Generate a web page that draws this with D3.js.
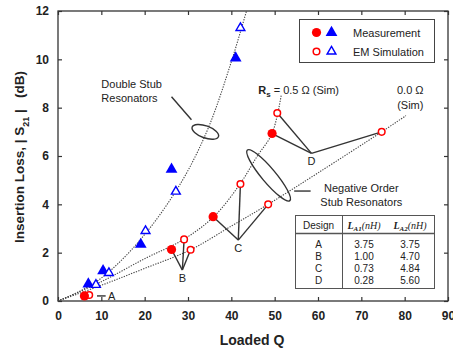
<!DOCTYPE html>
<html lang="en">
<head>
<meta charset="utf-8">
<title>Insertion Loss vs Loaded Q</title>
<style>
  body { margin: 0; background: #fff; }
  text { font-family: "Liberation Sans", Arial, sans-serif; fill: #222; }
</style>
</head>
<body>
<script src="https://cdn.jsdelivr.net/npm/d3@7"></script>
<script>
// Data
var triMeasQ  = [7.0, 10.4, 19.1, 26.2, 41.0];
var triMeasIL = [0.70, 1.25, 2.34, 5.45, 10.05];
var triSimQ   = [8.75, 11.75, 20.2, 27.2, 42.1];
var triSimIL  = [0.67, 1.16, 2.90, 4.53, 11.3];
var cirMeasQ  = [6.1, 26.2, 35.8, 49.4];
var cirMeasIL = [0.21, 2.13, 3.49, 6.93];
var cirSimQ   = [7.2, 29.1, 30.6, 42.1, 48.5, 50.6, 74.7];
var cirSimIL  = [0.25, 2.55, 2.12, 4.84, 4.00, 7.78, 7.00];

// dotted guide curves
var stubQ  = [0, 5, 10, 15, 20, 25, 30, 35, 40, 43.5];
var stubIL = [0, 0.40, 0.95, 1.75, 2.75, 3.95, 5.4, 7.3, 9.9, 12];
var rs05Q  = [0, 10, 20, 29, 36, 42, 46, 49.4, 51.5];
var rs05IL = [0, 0.80, 1.75, 2.55, 3.5, 4.84, 6.0, 6.93, 8.5];
var rs00Q  = [0, 10, 20, 30.6, 40, 48.5, 60, 74.7, 80.3];
var rs00IL = [0, 0.65, 1.35, 2.12, 3.1, 4.0, 5.3, 7.0, 7.67];

var xTicks = [0, 10, 20, 30, 40, 50, 60, 70, 80, 90];
var yTicks = [0, 2, 4, 6, 8, 10, 12];

var tableHead = ["Design", "LA1", "LA2"];
var designs = ["A", "B", "C", "D"];
var la1 = ["3.75", "1.00", "0.73", "0.28"];
var la2 = ["3.75", "4.70", "4.84", "5.60"];

var w = 453, h = 349;
var svg = d3.select("body").append("svg").attr("width", w).attr("height", h);

var x = d3.scaleLinear().domain([0, 90]).range([58, 448]);
var y = d3.scaleLinear().domain([0, 12]).range([301, 11]);

function pts(qs, ils) { return qs.map(function(q, i) { return [q, ils[i]]; }); }

// frame
svg.append("rect").attr("x", x(0)).attr("y", y(12))
   .attr("width", x(90) - x(0)).attr("height", y(0) - y(12))
   .attr("fill", "none").attr("stroke", "#333").attr("stroke-width", 1.3);

// axes with inward ticks
svg.append("g").attr("transform", "translate(0," + y(0) + ")")
  .call(d3.axisBottom(x).tickValues(xTicks).tickSizeInner(-4).tickSizeOuter(0).tickPadding(10));
svg.append("g").attr("transform", "translate(" + x(0) + ",0)")
  .call(d3.axisLeft(y).tickValues(yTicks).tickSizeInner(-4).tickSizeOuter(0).tickPadding(9));
svg.append("g").attr("transform", "translate(0," + y(12) + ")")
  .call(d3.axisTop(x).tickValues(xTicks).tickSizeInner(-4).tickSizeOuter(0).tickFormat(""));
svg.append("g").attr("transform", "translate(" + x(90) + ",0)")
  .call(d3.axisRight(y).tickValues(yTicks).tickSizeInner(-4).tickSizeOuter(0).tickFormat(""));
svg.selectAll(".domain").remove();
svg.selectAll(".tick line").attr("stroke", "#333").attr("stroke-width", 1.2);
svg.selectAll(".tick text").style("font-size", "12px").style("font-weight", "bold")
   .style("font-family", "Liberation Sans, Arial, sans-serif").attr("fill", "#333");

// axis titles
svg.append("text").attr("x", 252).attr("y", 345).attr("text-anchor", "middle")
   .style("font-size", "14px").style("font-weight", "bold").text("Loaded Q");
var yl = svg.append("text").attr("transform", "translate(24,157) rotate(-90)")
   .attr("text-anchor", "middle").style("font-size", "13.5px").style("font-weight", "bold")
   .style("white-space", "pre");
yl.append("tspan").text("Insertion Loss, | S");
yl.append("tspan").attr("baseline-shift", "sub").style("font-size", "9px").text("21");
yl.append("tspan").text(" |   (dB)");

// dotted curves
var line = d3.line().x(function(d) { return x(d[0]); }).y(function(d) { return y(d[1]); })
  .curve(d3.curveCatmullRom);
[pts(stubQ, stubIL), pts(rs05Q, rs05IL), pts(rs00Q, rs00IL)].forEach(function(c) {
  svg.append("path").attr("d", line(c)).attr("fill", "none")
     .attr("stroke", "#444").attr("stroke-width", 1.1).attr("stroke-dasharray", "1.3,1.3");
});

// annotation leader lines (in data coordinates)
var ann = svg.append("g").attr("stroke", "#333").attr("stroke-width", 1.4).attr("fill", "none");
function seg(a, b) {
  ann.append("line").attr("x1", x(a[0])).attr("y1", y(a[1])).attr("x2", x(b[0])).attr("y2", y(b[1]));
}
var vD = [58.5, 6.11], vC = [41.6, 2.52], vB = [28.7, 1.28];
seg(vD, [cirSimQ[5], cirSimIL[5]]); seg(vD, [cirMeasQ[3], cirMeasIL[3]]); seg(vD, [cirSimQ[6], cirSimIL[6]]);
seg(vC, [cirSimQ[3], cirSimIL[3]]); seg(vC, [cirMeasQ[2], cirMeasIL[2]]); seg(vC, [cirSimQ[4], cirSimIL[4]]);
seg(vB, [cirSimQ[1], cirSimIL[1]]); seg(vB, [cirMeasQ[1], cirMeasIL[1]]); seg(vB, [cirSimQ[2], cirSimIL[2]]);
seg([9.0, 0.21], [11.0, 0.21]);
// double stub leader + loop
seg([26.2, 8.45], [30.8, 7.5]);
ann.append("ellipse").attr("cx", x(34.0)).attr("cy", y(7.0)).attr("rx", 14).attr("ry", 6)
   .attr("transform", "rotate(20," + x(34.0) + "," + y(7.0) + ")");
// negative order leader + loop
seg([54.5, 4.55], [58.3, 4.55]);
ann.append("ellipse").attr("cx", x(48.6)).attr("cy", y(5.2)).attr("rx", 33).attr("ry", 7)
   .attr("transform", "rotate(50," + x(48.6) + "," + y(5.2) + ")");

function label(t, q, il, opts) {
  var el = svg.append("text").attr("x", x(q)).attr("y", y(il))
    .attr("text-anchor", (opts && opts.anchor) || "middle").style("font-size", "11px").text(t);
  return el;
}
label("D", vD[0], vD[1] - 0.5);
label("C", vC[0], vC[1] - 0.5);
label("B", vB[0], vB[1] - 0.5);
label("A", 12.4, 0.05);
label("Double Stub", 10.0, 8.8, { anchor: "start" });
label("Resonators", 10.0, 8.25, { anchor: "start" });
label("Negative Order", 70.0, 4.5);
label("Stub Resonators", 70.0, 3.95);
label("0.0 \u03A9", 81.3, 8.55);
label("(Sim)", 81.3, 7.95);
var rs = svg.append("text").attr("x", x(46.2)).attr("y", y(8.55)).style("font-size", "11px");
rs.append("tspan").style("font-weight", "bold").text("R");
rs.append("tspan").style("font-weight", "bold").style("font-size", "8px").attr("dy", 3).text("s");
rs.append("tspan").attr("dy", -3).text(" = 0.5 \u03A9 (Sim)");

// markers
var tri = d3.symbol().type(d3.symbolTriangle);
svg.selectAll(".tm").data(pts(triMeasQ, triMeasIL)).enter().append("path")
   .attr("d", tri.size(60)()).attr("fill", "#0000ff")
   .attr("transform", function(d) { return "translate(" + x(d[0]) + "," + y(d[1]) + ")"; });
svg.selectAll(".ts").data(pts(triSimQ, triSimIL)).enter().append("path")
   .attr("d", tri.size(34)()).attr("fill", "#fff").attr("stroke", "#0000ff").attr("stroke-width", 1.4)
   .attr("transform", function(d) { return "translate(" + x(d[0]) + "," + y(d[1]) + ")"; });
svg.selectAll(".cs").data(pts(cirSimQ, cirSimIL)).enter().append("circle")
   .attr("cx", function(d) { return x(d[0]); }).attr("cy", function(d) { return y(d[1]); })
   .attr("r", 3.3).attr("fill", "#fff").attr("stroke", "#ff0000").attr("stroke-width", 1.5);
svg.selectAll(".cm").data(pts(cirMeasQ, cirMeasIL)).enter().append("circle")
   .attr("cx", function(d) { return x(d[0]); }).attr("cy", function(d) { return y(d[1]); })
   .attr("r", 4.6).attr("fill", "#ff0000");

// legend
var lg = svg.append("g");
lg.append("rect").attr("x", 299.5).attr("y", 19.5).attr("width", 135).attr("height", 43)
  .attr("fill", "#fff").attr("stroke", "#444").attr("stroke-width", 1);
lg.append("circle").attr("cx", 316.5).attr("cy", 32.5).attr("r", 4.6).attr("fill", "#ff0000");
lg.append("path").attr("d", tri.size(60)()).attr("fill", "#0000ff").attr("transform", "translate(331.5,32.5)");
lg.append("circle").attr("cx", 316.5).attr("cy", 51.5).attr("r", 3.3).attr("fill", "#fff")
  .attr("stroke", "#ff0000").attr("stroke-width", 1.5);
lg.append("path").attr("d", tri.size(34)()).attr("fill", "#fff").attr("stroke", "#0000ff")
  .attr("stroke-width", 1.4).attr("transform", "translate(331.5,51.5)");
lg.append("text").attr("x", 353).attr("y", 36.5).style("font-size", "11px").text("Measurement");
lg.append("text").attr("x", 353).attr("y", 55.5).style("font-size", "11px").text("EM Simulation");

// table
var tb = svg.append("g");
tb.append("rect").attr("x", 295.5).attr("y", 215.5).attr("width", 139).attr("height", 73)
  .attr("fill", "#fff").attr("stroke", "#555").attr("stroke-width", 1);
tb.append("line").attr("x1", 295.5).attr("x2", 434.5).attr("y1", 233.5).attr("y2", 233.5)
  .attr("stroke", "#555").attr("stroke-width", 1.4);
tb.append("line").attr("x1", 342.5).attr("x2", 342.5).attr("y1", 215.5).attr("y2", 288.5)
  .attr("stroke", "#555").attr("stroke-width", 1);
var colX = [318.5, 364, 410];
tb.append("text").attr("x", colX[0]).attr("y", 228.5).attr("text-anchor", "middle")
  .style("font-size", "10px").text(tableHead[0]);
[1, 2].forEach(function(c) {
  var t = tb.append("text").attr("x", colX[c]).attr("y", 228.5).attr("text-anchor", "middle")
    .style("font-size", "10px").style("font-family", "Liberation Serif, serif").style("font-style", "italic");
  t.append("tspan").style("font-weight", "bold").text(tableHead[c].charAt(0));
  t.append("tspan").attr("dy", 2).style("font-size", "7px").style("font-weight", "bold").text(tableHead[c].slice(1));
  t.append("tspan").attr("dy", -2).text("(nH)");
});
designs.forEach(function(d, i) {
  var yy = 247.5 + i * 12;
  [d, la1[i], la2[i]].forEach(function(v, c) {
    tb.append("text").attr("x", colX[c]).attr("y", yy).attr("text-anchor", "middle")
      .style("font-size", "10px").text(v);
  });
});
</script>
</body>
</html>
